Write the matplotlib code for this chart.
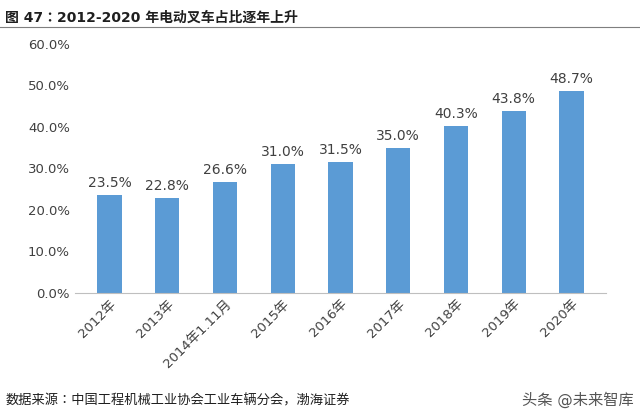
import matplotlib
matplotlib.use("Agg")
import matplotlib.pyplot as plt
from matplotlib import font_manager as fm
from matplotlib.ticker import FuncFormatter

names = {f.name for f in fm.fontManager.ttflist}
cjk = [n for n in ["Noto Sans CJK SC", "Noto Sans CJK JP", "Noto Sans CJK TC", "Noto Sans CJK KR", "Noto Sans SC"] if n in names]
if not cjk:
    cjk = [f.name for f in fm.fontManager.ttflist if "CJK" in f.name][:1]
plt.rcParams["font.family"] = ["DejaVu Sans"] + cjk

categories = ["2012年", "2013年", "2014年1.11月", "2015年", "2016年", "2017年", "2018年", "2019年", "2020年"]
values = [23.5, 22.8, 26.6, 31.0, 31.5, 35.0, 40.3, 43.8, 48.7]
yticks = [0, 10, 20, 30, 40, 50, 60]

fig = plt.figure(figsize=(6.4, 4.18), dpi=100)
ax = fig.add_axes([0.117, 0.30, 0.83, 0.595])
x = range(len(categories))
ax.bar(x, values, width=0.42, color="#5B9BD5")
for i, v in zip(x, values):
    ax.text(i, v + 1.2, f"{v:.1f}%", ha="center", va="bottom", fontsize=10, color="#404040")
ax.set_ylim(0, 60)
ax.set_yticks(yticks)
ax.yaxis.set_major_formatter(FuncFormatter(lambda v, p: f"{v:.1f}%"))
ax.set_xlim(-0.6, len(categories) - 0.4)
ax.set_xticks(list(x))
ax.set_xticklabels(categories, rotation=45, ha="right", rotation_mode="anchor", fontsize=9.5, color="#404040")
ax.tick_params(axis="y", labelsize=9.5, colors="#404040", length=0)
ax.tick_params(axis="x", length=0)
for s in ["top", "right", "left"]:
    ax.spines[s].set_visible(False)
ax.spines["bottom"].set_color("#BFBFBF")

fig.text(0.008, 0.975, "图 47：2012-2020 年电动叉车占比逐年上升", fontsize=10, fontweight="bold", va="top", color="#1F1F1F")
fig.add_artist(plt.Line2D([0.0, 1.0], [0.935, 0.935], color="#7F7F7F", lw=0.8))
fig.text(0.008, 0.025, "数据来源：中国工程机械工业协会工业车辆分会，渤海证券", fontsize=9.5, style="italic", va="bottom", color="#1F1F1F")
fig.text(0.99, 0.025, "头条 @未来智库", fontsize=11, ha="right", va="bottom", color="#555555")
fig.savefig("out.png", dpi=100)
